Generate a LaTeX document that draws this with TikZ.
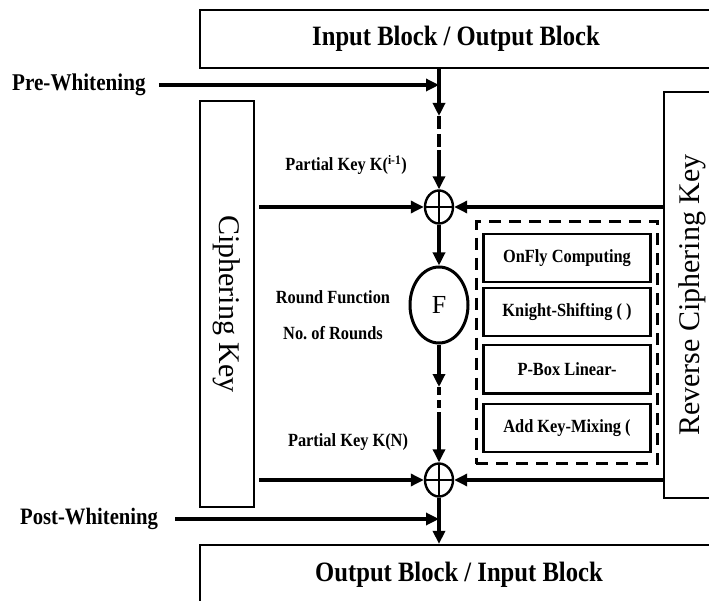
\documentclass[tikz,border=0pt]{standalone}
\usepackage{fontspec}
\setmainfont{Liberation Serif}
\newfontfamily\narrowserif{Liberation Serif}[FakeStretch=0.88]
\usetikzlibrary{arrows.meta,shapes,positioning,fit,calc}

\begin{document}
\begin{tikzpicture}[x=1pt,y=-1pt,>={Triangle[length=13pt,width=12pt]},
  blk/.style={draw,line width=2.2pt,inner sep=0pt},
  lbl/.style={inner sep=0pt,font=\narrowserif\bfseries\fontsize{18.6}{20}\selectfont},
  flow/.style={line width=3.2pt},
  xorop/.style={draw,ellipse,line width=2.4pt,minimum width=28pt,minimum height=33pt,inner sep=0pt,
    path picture={\draw[line width=1.6pt](path picture bounding box.north)--(path picture bounding box.south)
      (path picture bounding box.west)--(path picture bounding box.east);}},
  stage/.style={blk,minimum width=167pt,minimum height=48pt,font=\narrowserif\bfseries\fontsize{18.6}{20}\selectfont}]
\useasboundingbox (0,0) rectangle (709,601);
\clip (0,0) rectangle (709,601);
% blocks
\node[blk,minimum width=512pt,minimum height=58pt,font=\narrowserif\bfseries\fontsize{28}{30}\selectfont](inblk) at (456,39){Input Block / Output Block};
\node[blk,minimum width=518pt,minimum height=60pt,font=\narrowserif\bfseries\fontsize{28}{30}\selectfont](outblk) at (459,575){Output Block / Input Block};
\node[blk,minimum width=54pt,minimum height=406pt](ckey) at (227,304){\rotatebox{-90}{\fontsize{30}{32}\selectfont Ciphering Key}};
\node[blk,minimum width=56pt,minimum height=406pt](revkey) at (692,295){\rotatebox{90}{\fontsize{30}{32}\selectfont Reverse Ciphering Key}};
% xor and round function
\node[xorop](xor1) at (439,207){};
\node[xorop](xor2) at (439,480){};
\node[draw,ellipse,line width=3pt,minimum width=58pt,minimum height=76pt,font=\fontsize{26}{28}\selectfont](rf) at (439,305){F};
% round steps
\node[stage](fly) at (567,258){OnFly Computing};
\node[stage,below=4pt of fly](knight){Knight-Shifting ( )};
\node[stage,below=7pt of knight](pbox){P-Box Linear-};
\node[stage,below=8pt of pbox](mix){Add Key-Mixing (};
\node[draw,line width=3.2pt,dash pattern=on 12pt off 8pt,inner xsep=6pt,inner ysep=11pt,fit=(fly)(mix)](grp){};
% labels
\node[lbl](pk1) at (346,165){Partial Key K(\textsuperscript{i-1})};
\node[lbl](pkn) at (348,442){Partial Key K(N)};
\node[lbl](rfn) at (333,297){Round Function};
\node[lbl](nr) at (333,333){No.\ of Rounds};
\node[lbl,anchor=west,font=\narrowserif\bfseries\fontsize{24}{26}\selectfont](prew) at (12,85){Pre-Whitening};
\node[lbl,anchor=west,font=\narrowserif\bfseries\fontsize{23.5}{26}\selectfont](postw) at (20,519){Post-Whitening};
\coordinate (a1) at (439,116);
\coordinate (a2) at (439,150);
\coordinate (b1) at (439,387);
\coordinate (b2) at (439,412);
% data path
\draw[flow,->](inblk.south -| xor1)--(a1);
\draw[flow,dash pattern=on 13pt off 5pt](a1)--(a2);
\draw[flow,->](a2)--(xor1.north);
\draw[flow,->](xor1.south)--(rf.north);
\draw[flow,->](rf.south)--(b1);
\draw[flow,dash pattern=on 8pt off 5pt](b1)--(b2);
\draw[flow,->](b2)--(xor2.north);
\draw[flow,->](xor2.south)--(outblk.north -| xor2);
\draw[flow,->]([xshift=13pt]prew.east)--(prew -| xor1);
\draw[flow,->]([xshift=17pt]postw.east)--(postw -| xor2);
% key inputs
\draw[flow,->]([xshift=4pt]ckey.east |- xor1)--(xor1.west);
\draw[flow,->]([xshift=4pt]ckey.east |- xor2)--(xor2.west);
\draw[flow,->](revkey.west |- xor1)--(xor1.east);
\draw[flow,->](revkey.west |- xor2)--(xor2.east);
\end{tikzpicture}
\end{document}
